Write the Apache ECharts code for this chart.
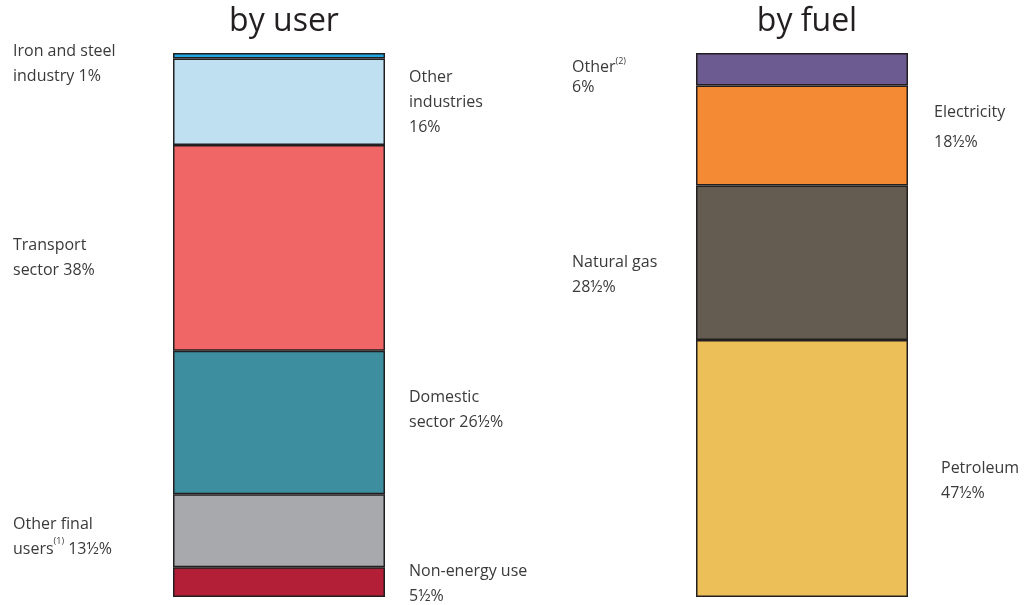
<!DOCTYPE html>
<html><head><meta charset="utf-8">
<script src="https://cdn.jsdelivr.net/npm/echarts@6/dist/echarts.min.js"></script>
<style>html,body{margin:0;padding:0;background:#fff}#c{width:1024px;height:605px}</style>
</head><body><div id="c"></div>
<script>
// Data (bottom to top)
const userNames = ['Non-energy use', 'Other final users', 'Domestic sector', 'Transport sector', 'Other industries', 'Iron and steel industry'];
const userValues = [5.5, 13.5, 26.5, 38, 16, 1];
const userLabels = ['Non-energy use\n5½%', 'Other final\nusers{sup|(1)} 13½%', 'Domestic\nsector 26½%', 'Transport\nsector 38%', 'Other\nindustries\n16%', 'Iron and steel\nindustry 1%'];
const fuelNames = ['Petroleum', 'Natural gas', 'Electricity', 'Other'];
const fuelValues = [47.5, 28.5, 18.5, 6];
const fuelLabels = ['Petroleum\n47½%', 'Natural gas\n28½%', 'Electricity\n18½%', 'Other{sup|(2)}\n6%'];
const titles = ['by user', 'by fuel'];

// Styles
const userColors = ['#b31f36', '#a7a9ac', '#3d8fa0', '#f06666', '#bfe0f0', '#1ea7e1'];
const fuelColors = ['#edbf58', '#655c51', '#f48a33', '#6c5b91'];
const userLabelPos = [[236, 2, 25], [-160, 6, 25], [236, -12, 25], [-160, 10, 25], [236, 1, 25], [-160, 8, 25]];
const fuelLabelPos = [[245, 12, 25], [-124, 12, 25], [238, -8, 30], [-124, 8, 20]];

const FONT = '"Open Sans", "Noto Sans", sans-serif';
const sum = a => a.reduce((s, v) => s + v, 0);

function makeSeries(names, values, colors, labels, pos, idx) {
  return names.map((n, i) => ({
    name: n, type: 'bar', stack: 's' + idx, xAxisIndex: idx, yAxisIndex: idx,
    barWidth: '100%', data: [values[i]],
    itemStyle: { color: colors[i], borderColor: '#231f20', borderWidth: 1.5 },
    label: {
      show: true, formatter: labels[i], position: [pos[i][0], '50%'], offset: [0, pos[i][1]],
      align: 'left', verticalAlign: 'middle', color: '#3a3a3a', fontSize: 16, lineHeight: pos[i][2],
      fontFamily: FONT,
      rich: { sup: { fontSize: 9, verticalAlign: 'top', lineHeight: 14, color: '#3a3a3a', fontFamily: FONT } }
    },
    emphasis: { disabled: true }, animation: false
  }));
}

const grids = [
  { left: 173, top: 53, width: 212, height: 544 },
  { left: 696, top: 53, width: 212, height: 544 }
];
const chart = echarts.init(document.getElementById('c'));
chart.setOption({
  animation: false,
  title: titles.map((t, i) => ({
    text: t, left: grids[i].left + grids[i].width / 2, top: 1, textAlign: 'center',
    textStyle: { fontSize: 32, fontWeight: 'normal', color: '#231f20', fontFamily: FONT }
  })),
  grid: grids,
  xAxis: [0, 1].map(i => ({ type: 'category', gridIndex: i, data: [''], show: false })),
  yAxis: [0, 1].map(i => ({ type: 'value', gridIndex: i, min: 0, max: sum(i ? fuelValues : userValues), show: false, splitLine: { show: false } })),
  series: [
    ...makeSeries(userNames, userValues, userColors, userLabels, userLabelPos, 0),
    ...makeSeries(fuelNames, fuelValues, fuelColors, fuelLabels, fuelLabelPos, 1)
  ]
});
</script></body></html>
